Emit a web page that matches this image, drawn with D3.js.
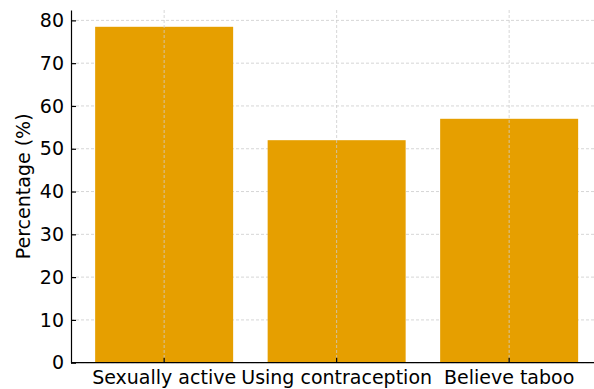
<!DOCTYPE html>
<html>
<head>
<meta charset="utf-8">
<script src="https://cdn.jsdelivr.net/npm/d3@7"></script>
<style>
  html, body { margin: 0; padding: 0; background: #fff; }
  svg { display: block; }
  text { font-family: "DejaVu Sans", sans-serif; fill: #000; }
</style>
</head>
<body>
<div id="chart"></div>
<script>
const categories = ["Sexually active", "Using contraception", "Believe taboo"];
const values = [78.5, 52, 57];
const yTicks = [0, 10, 20, 30, 40, 50, 60, 70, 80];
const yLabel = "Percentage (%)";

const W = 594, H = 389;
const margin = { left: 71, top: 10, bottom: 389 - 362.7 };
const fontSize = 19;

const svg = d3.select("#chart").append("svg").attr("width", W).attr("height", H);

// bar width is 0.8 of the step, with 5% padding on the data extent
const step = 172.5;
const x = d3.scaleLinear().domain([-0.54, 2.54]).range([margin.left, margin.left + 3.08 * step]);
const yMax = d3.max(values) * 1.05;
const y = d3.scaleLinear().domain([0, yMax]).range([H - margin.bottom, margin.top]);

const g = svg.append("g");

// horizontal grid
g.selectAll("line.hgrid").data(yTicks).enter().append("line")
  .attr("x1", margin.left).attr("x2", W)
  .attr("y1", d => y(d)).attr("y2", d => y(d))
  .attr("stroke", "#cccccc").attr("stroke-width", 0.8).attr("stroke-dasharray", "3,2");

// bars
g.selectAll("rect.bar").data(values).enter().append("rect")
  .attr("x", (d, i) => x(i - 0.4))
  .attr("width", (d, i) => x(i + 0.4) - x(i - 0.4))
  .attr("y", d => y(d))
  .attr("height", d => y(0) - y(d))
  .attr("fill", "#E69F00");

// vertical grid, drawn over the bars
g.selectAll("line.vgrid").data(categories).enter().append("line")
  .attr("x1", (d, i) => x(i)).attr("x2", (d, i) => x(i))
  .attr("y1", margin.top).attr("y2", y(0))
  .attr("stroke", "#cccccc").attr("stroke-width", 0.8).attr("stroke-dasharray", "3,2");

// y axis with inward ticks
const yAxis = d3.axisLeft(y).tickValues(yTicks).tickSizeInner(-5).tickSizeOuter(0).tickPadding(7);
const ya = svg.append("g").attr("transform", `translate(${margin.left},0)`).call(yAxis)
  .attr("font-size", fontSize).attr("font-family", "DejaVu Sans");
ya.select(".domain").attr("stroke", "#000").attr("stroke-width", 1.2);
ya.selectAll(".tick line").attr("stroke", "#000").attr("stroke-width", 1.2);
ya.selectAll(".tick text").attr("fill", "#000");

// x axis (categorical) with inward ticks
const xa = svg.append("g").attr("transform", `translate(0,${y(0)})`);
xa.append("line").attr("x1", margin.left).attr("x2", W).attr("y1", 0).attr("y2", 0)
  .attr("stroke", "#000").attr("stroke-width", 1.2);
xa.selectAll("line.tick").data(categories).enter().append("line")
  .attr("x1", (d, i) => x(i)).attr("x2", (d, i) => x(i))
  .attr("y1", 0).attr("y2", -5).attr("stroke", "#000").attr("stroke-width", 1.2);
xa.selectAll("text.lbl").data(categories).enter().append("text")
  .attr("x", (d, i) => x(i)).attr("y", 21.5)
  .attr("text-anchor", "middle").attr("font-size", fontSize)
  .text(d => d);

// y label
svg.append("text")
  .attr("transform", `translate(30,${(margin.top + y(0)) / 2}) rotate(-90)`)
  .attr("text-anchor", "middle").attr("font-size", fontSize)
  .text(yLabel);
</script>
</body>
</html>
